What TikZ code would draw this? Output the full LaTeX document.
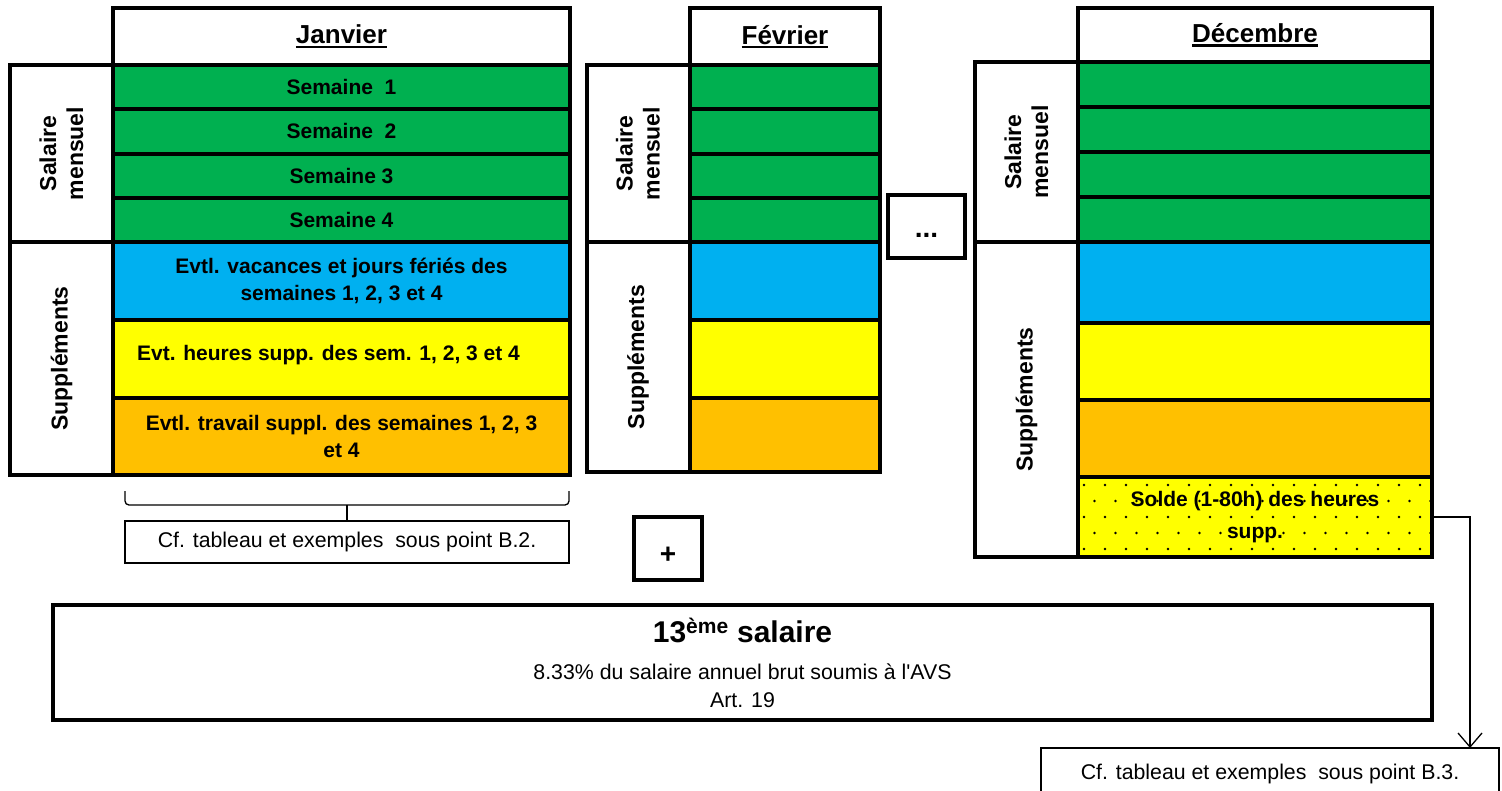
\documentclass[tikz,border=0pt]{standalone}
\usepackage{fontspec}
\setmainfont{Liberation Sans}
\usetikzlibrary{positioning, arrows.meta}

\definecolor{wkgreen}{HTML}{00B050}
\definecolor{vacblue}{HTML}{00B0F0}
\definecolor{hsyellow}{HTML}{FFFF00}
\definecolor{travorange}{HTML}{FFC000}

\newsavebox{\monthbox}
\newcommand{\monthul}[1]{\sbox{\monthbox}{#1}\rlap{\rule[-4pt]{\wd\monthbox}{2.4pt}}\usebox{\monthbox}}

\begin{document}
\begin{tikzpicture}[x=1pt, y=-1pt, node distance=0pt,
  every node/.style={outer sep=0pt, align=center},
  cell/.style={draw, line width=4pt, minimum width=#1, inner sep=2pt, font=\fontsize{21}{27}\selectfont\bfseries},
  head/.style={cell=#1, fill=white, font=\fontsize{26}{30}\selectfont\bfseries},
  wk/.style={fill=wkgreen},
  vac/.style={fill=vacblue},
  hs/.style={fill=hsyellow},
  trav/.style={fill=travorange},
  dotted/.style={fill=hsyellow, path picture={
    \foreach \r in {0,...,4} \foreach \c in {0,...,17}
      \fill[black] ([xshift={6+21*\c+10.5*mod(\r,2)}, yshift={-8-16*\r}]path picture bounding box.north west) circle (1.4pt);}},
  side/.style={draw, line width=4pt, rotate=90, minimum height=103, font=\fontsize{23}{27}\selectfont\bfseries},
  note/.style={draw, line width=1.8pt, font=\fontsize{21.3}{26}\selectfont},
  sign/.style={draw, line width=4pt, font=\fontsize{28}{30}\selectfont\bfseries},
  conn/.style={line width=1.3pt, -{Straight Barb[length=14pt, width=24pt]}}]

  \path[use as bounding box, fill=white] (0,0) rectangle (1502,790);

  \node[head=457, minimum height=57, anchor=north west] (jan) at (113,8) {\monthul{Janvier}};
  \node[cell=457, wk, minimum height=44.25, below=of jan] (jan1) {Semaine\ \ 1};
  \node[cell=457, wk, minimum height=44.25, below=of jan1] (jan2) {Semaine\ \ 2};
  \node[cell=457, wk, minimum height=44.25, below=of jan2] (jan3) {Semaine 3};
  \node[cell=457, wk, minimum height=44.25, below=of jan3] (jan4) {Semaine 4};
  \node[cell=457, vac, minimum height=78, below=of jan4] (janvac) {Evtl. vacances et jours fériés des\\semaines 1, 2, 3 et 4};
  \node[cell=457, hs, minimum height=78, below=of janvac] (janhs) {\raisebox{12pt}{Evt. heures supp. des sem. 1, 2, 3 et 4}\hspace*{26pt}};
  \node[cell=457, trav, minimum height=77, below=of janhs] (jantrav) {Evtl. travail suppl. des semaines 1, 2, 3\\et 4};
  \node[side, minimum width=177] (jansal) at (61.5,153.5) {Salaire\\mensuel};
  \node[side, minimum width=233] (jansup) at (61.5,358.5) {Suppléments};

  \node[head=190, minimum height=57, anchor=north west] (fev) at (690,8) {\monthul{Février}};
  \node[cell=190, wk, minimum height=44.25, below=of fev] (fev1) {};
  \node[cell=190, wk, minimum height=44.25, below=of fev1] (fev2) {};
  \node[cell=190, wk, minimum height=44.25, below=of fev2] (fev3) {};
  \node[cell=190, wk, minimum height=44.25, below=of fev3] (fev4) {};
  \node[cell=190, vac, minimum height=78, below=of fev4] (fevvac) {};
  \node[cell=190, hs, minimum height=78, below=of fevvac] (fevhs) {};
  \node[cell=190, trav, minimum height=74, below=of fevhs] (fevtrav) {};
  \node[side, minimum width=177] (fevsal) at (638,153.5) {Salaire\\mensuel};
  \node[side, minimum width=230] (fevsup) at (638,357) {Suppléments};

  \node[head=354, minimum height=54, anchor=north west] (dec) at (1078,8) {\monthul{Décembre}};
  \node[cell=354, wk, minimum height=45, below=of dec] (dec1) {};
  \node[cell=354, wk, minimum height=45, below=of dec1] (dec2) {};
  \node[cell=354, wk, minimum height=45, below=of dec2] (dec3) {};
  \node[cell=354, wk, minimum height=45, below=of dec3] (dec4) {};
  \node[cell=354, vac, minimum height=81, below=of dec4] (decvac) {};
  \node[cell=354, hs, minimum height=77, below=of decvac] (dechs) {};
  \node[cell=354, trav, minimum height=77, below=of dechs] (dectrav) {};
  \node[cell=354, dotted, minimum height=80, below=of dectrav] (decsolde) {Solde (1-80h) des heures\\[5pt]supp.};
  \node[side, minimum width=180] (decsal) at (1026.5,152) {Salaire\\mensuel};
  \node[side, minimum width=315] (decsup) at (1026.5,399.5) {Suppléments};

  \node[sign, minimum width=77, minimum height=63] (etc) at (926.5,226.5) {\raisebox{-11pt}[0pt][0pt]{...}};
  \node[sign, minimum width=68, minimum height=63] (plus) at (668,548.5) {\raisebox{-15pt}[0pt][0pt]{+}};

  \node[note, minimum width=444, minimum height=42] (notejan) at (347,542) {Cf. tableau et exemples\ \ sous point B.2.};
  \draw[line width=1.3pt] (notejan.north) -- ([yshift=16pt]notejan.north);
  \draw[line width=1.3pt, rounded corners=4pt]
    ([yshift=30pt]notejan.north west) |- ([yshift=16pt]notejan.north) -| ([yshift=30pt]notejan.north east);

  \node[draw, line width=4pt, minimum width=1379, minimum height=115, font=\fontsize{21.3}{28}\selectfont] (treize) at (742.5,662.5)
    {{\fontsize{30}{37}\selectfont\bfseries 13\textsuperscript{ème} salaire}\\[9pt]8.33\% du salaire annuel brut soumis à l\textquotesingle AVS\\Art. 19};

  \node[note, minimum width=458, minimum height=52] (notedec) at (1270,774) {Cf. tableau et exemples\ \ sous point B.3.};
  \draw[conn] (decsolde.east) -| ([xshift=200pt]notedec.north);
\end{tikzpicture}
\end{document}
